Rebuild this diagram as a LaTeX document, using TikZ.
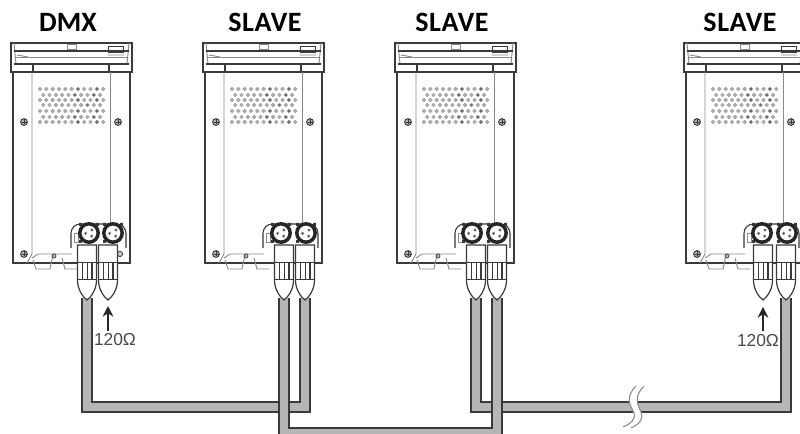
\documentclass[tikz,border=0pt]{standalone}
\usepackage{fontspec}
\setmainfont{Carlito}
\newfontfamily\ohmfont{Liberation Sans}
\definecolor{ln}{HTML}{3A3A3A}
\definecolor{ln2}{HTML}{8A8A8A}
\definecolor{cab}{HTML}{B6B6B6}
\definecolor{ohmc}{HTML}{4A4A4A}
\usetikzlibrary{arrows.meta}
\tikzset{
 x=0.75pt,y=-0.75pt,
 hd/.style={font=\bfseries\fontsize{21}{21}\selectfont,text=black,inner sep=0pt,anchor=center},
 ohm/.style={font=\ohmfont\fontsize{13}{13}\selectfont,text=ohmc,inner sep=0pt},
 fx/.style={draw=ln,line width=0.8pt},
 fxthin/.style={draw=ln2,line width=0.7pt},
 cabedge/.style={draw=ln,line width=8.3pt,line join=miter},
 cabfill/.style={draw=cab,line width=6.7pt,line join=miter},
 tipline/.style={draw=black!85,line width=2pt,-{Stealth[length=8pt,width=8pt]}},
}
\newcommand{\fixturebody}[1]{%
 \begin{scope}[xshift=#1*0.75pt]
  \draw[fx] (11,43) rectangle (132,72);
  \draw[fx,line width=1pt] (13,72) -- (13,263) -- (130,263) -- (130,72);
  \draw[fxthin] (14,43) -- (16,64) (129,43) -- (127,64);
  \draw[fx] (14,51) -- (129,51);
  \draw[fxthin] (16,57) -- (127,57);
  \draw[fx] (14,64) -- (129,64);
  \draw[fx,line width=1.3pt] (33,64) -- (33,72) (109,64) -- (109,72);
  \draw[fxthin] (67,44) rectangle (76,49);
  \draw[fx,line width=0.6pt] (108,46) rectangle (123,52);
  \draw[fxthin] (108,55) -- (124,55) (17,55) -- (28,57);
  \draw[fxthin] (32,72) -- (32,254) -- (27,263);
  \draw[fxthin] (110,72) -- (110,224);
  \draw[fxthin] (32,258) -- (38,254) -- (72,254);
  \draw[fxthin] (33,260) -- (36,269) -- (50,269) -- (53,255);
  \draw[fxthin] (62,258) -- (65,269) -- (77,269);
  \foreach \sx in {24,118}{
    \draw[ln,line width=0.7pt,fill=white!70!black] (\sx,122) circle (3.4);
    \draw[ln,line width=0.5pt] (\sx-2.5,122) -- (\sx+2.5,122) (\sx,119.5) -- (\sx,124.5);
  }
  \draw[ln,line width=0.7pt,fill=white!70!black] (24,254) circle (3.4);
  \draw[ln,line width=0.5pt] (21.5,254) -- (26.5,254) (24,251.5) -- (24,256.5);
  \draw[ln,line width=0.5pt,fill=white!70!black] (54,256) circle (2);
  \draw[ln,line width=0.6pt,fill=white!80!black] (120,254) circle (2.6);
  \foreach \ry/\ss in {89/0,95/1,100/0,105/1,111/0,117/1,122/0}{
    \pgfmathsetmacro{\nn}{\ss==1?9:10}
    \foreach \ci in {0,...,\nn}{
      \pgfmathsetmacro{\dx}{40+\ss*3.2+\ci*6.32}
      \pgfmathsetmacro{\gg}{mod(\ci*7+\ry*3,11)<2?60:32}
      \fill[black!\gg!white,draw=black!38,line width=0.3pt] (\dx,\ry) circle (1.9);
    }
  }
  \draw[fx,fill=white,rounded corners=7pt] (71,248) -- (71,224) -- (126,224) -- (126,248);
  \draw[fxthin] (74,233) rectangle (78,242);
 \end{scope}}
\newcommand{\xlr}[2]{%
 \begin{scope}[shift={(#1,#2)}]
  \fill[ln] (-10,-10) rectangle (-7,-7) (7,-10) rectangle (10,-7) (-10,7) rectangle (-7,10);
  \draw[black!85,line width=2.6pt,fill=white] (0,0) circle (9.2);
  \fill[black!60] (-3.4,0.3) circle (1.6) (3,-3) circle (1.6) (2.6,3.2) circle (1.6);
 \end{scope}}
\newcommand{\plugg}[1]{%
 \begin{scope}[xshift=#1*0.75pt]
  \draw[fx,fill=white,line width=0.9pt] (-9.5,245) -- (9.5,245) -- (9.5,280)
     .. controls (9.5,290) and (4,297) .. (0,300)
     .. controls (-4,297) and (-9.5,290) .. (-9.5,280) -- cycle;
  \draw[fx,line width=0.7pt] (-9.5,262) -- (9.5,262) (-9.5,279) -- (9.5,279);
  \draw[ln,line width=1.3pt] (-4.5,262) -- (-4.5,279) (0.5,262) -- (0.5,279) (5,262) -- (5,279);
 \end{scope}}
\newcommand{\cablerun}[4]{%
 \draw[cabedge] (#1) -- (#2) -- (#3) -- (#4);
 \draw[cabfill] (#1) -- (#2) -- (#3) -- (#4);}
\begin{document}
\begin{tikzpicture}
\useasboundingbox (0,0) rectangle (800,434);
\fill[white] (0,0) rectangle (800,434);
\node[hd] (l1) at (68,22) {DMX};
\node[hd] (l2) at (265,22) {\addfontfeatures{LetterSpace=2}SLAVE};
\node[hd] (l3) at (452,22) {\addfontfeatures{LetterSpace=2}SLAVE};
\node[hd] (l4) at (740,22) {\addfontfeatures{LetterSpace=2}SLAVE};
\fixturebody{192}
\fixturebody{0}
\fixturebody{384}
\fixturebody{673}
\coordinate (a1) at (87,298); \coordinate (b1) at (108,298);
\coordinate (a2) at (284,298); \coordinate (b2) at (305,298);
\coordinate (a3) at (476,298); \coordinate (b3) at (497,298);
\coordinate (a4) at (763,298); \coordinate (b4) at (786,298);
\coordinate (k1) at (87,407); \coordinate (k2) at (305,407);
\coordinate (k3) at (476,407); \coordinate (k4) at (786,407);
\coordinate (k5) at (284,433); \coordinate (k6) at (497,433);
\cablerun{a1}{k1}{k2}{b2}
\cablerun{a3}{k3}{k4}{b4}
\cablerun{a2}{k5}{k6}{b3}
\fill[white] (636,386) .. controls (625,397) and (630,405) .. (634,413) .. controls (636,420) and (630,424) .. (623,427)
 -- (631,428) .. controls (640,424) and (644,418) .. (641,412) .. controls (637,404) and (634,396) .. (644,386) -- cycle;
\draw[black!45,line width=0.8pt] (636,386) .. controls (625,397) and (630,405) .. (634,413) .. controls (636,420) and (630,424) .. (623,427);
\draw[black!45,line width=0.8pt] (644,386) .. controls (634,396) and (637,404) .. (641,412) .. controls (644,418) and (640,424) .. (631,428);
\foreach \p/\q in {89/113,281/306,472/497,762/787}{\xlr{\p}{233}\xlr{\q}{233}}
\foreach \c in {87,108,284,305,476,497,763,786}{\plugg{\c}}
\node[ohm] (t1) at (115,340) {120Ω};
\node[ohm] (t4) at (758,341) {120Ω};
\coordinate (p1) at (108,306); \coordinate (p4) at (763,307);
\coordinate (q1) at (108,331); \coordinate (q4) at (763,331);
\draw[tipline] (q1) -- (p1);
\draw[tipline] (q4) -- (p4);
\end{tikzpicture}
\end{document}
